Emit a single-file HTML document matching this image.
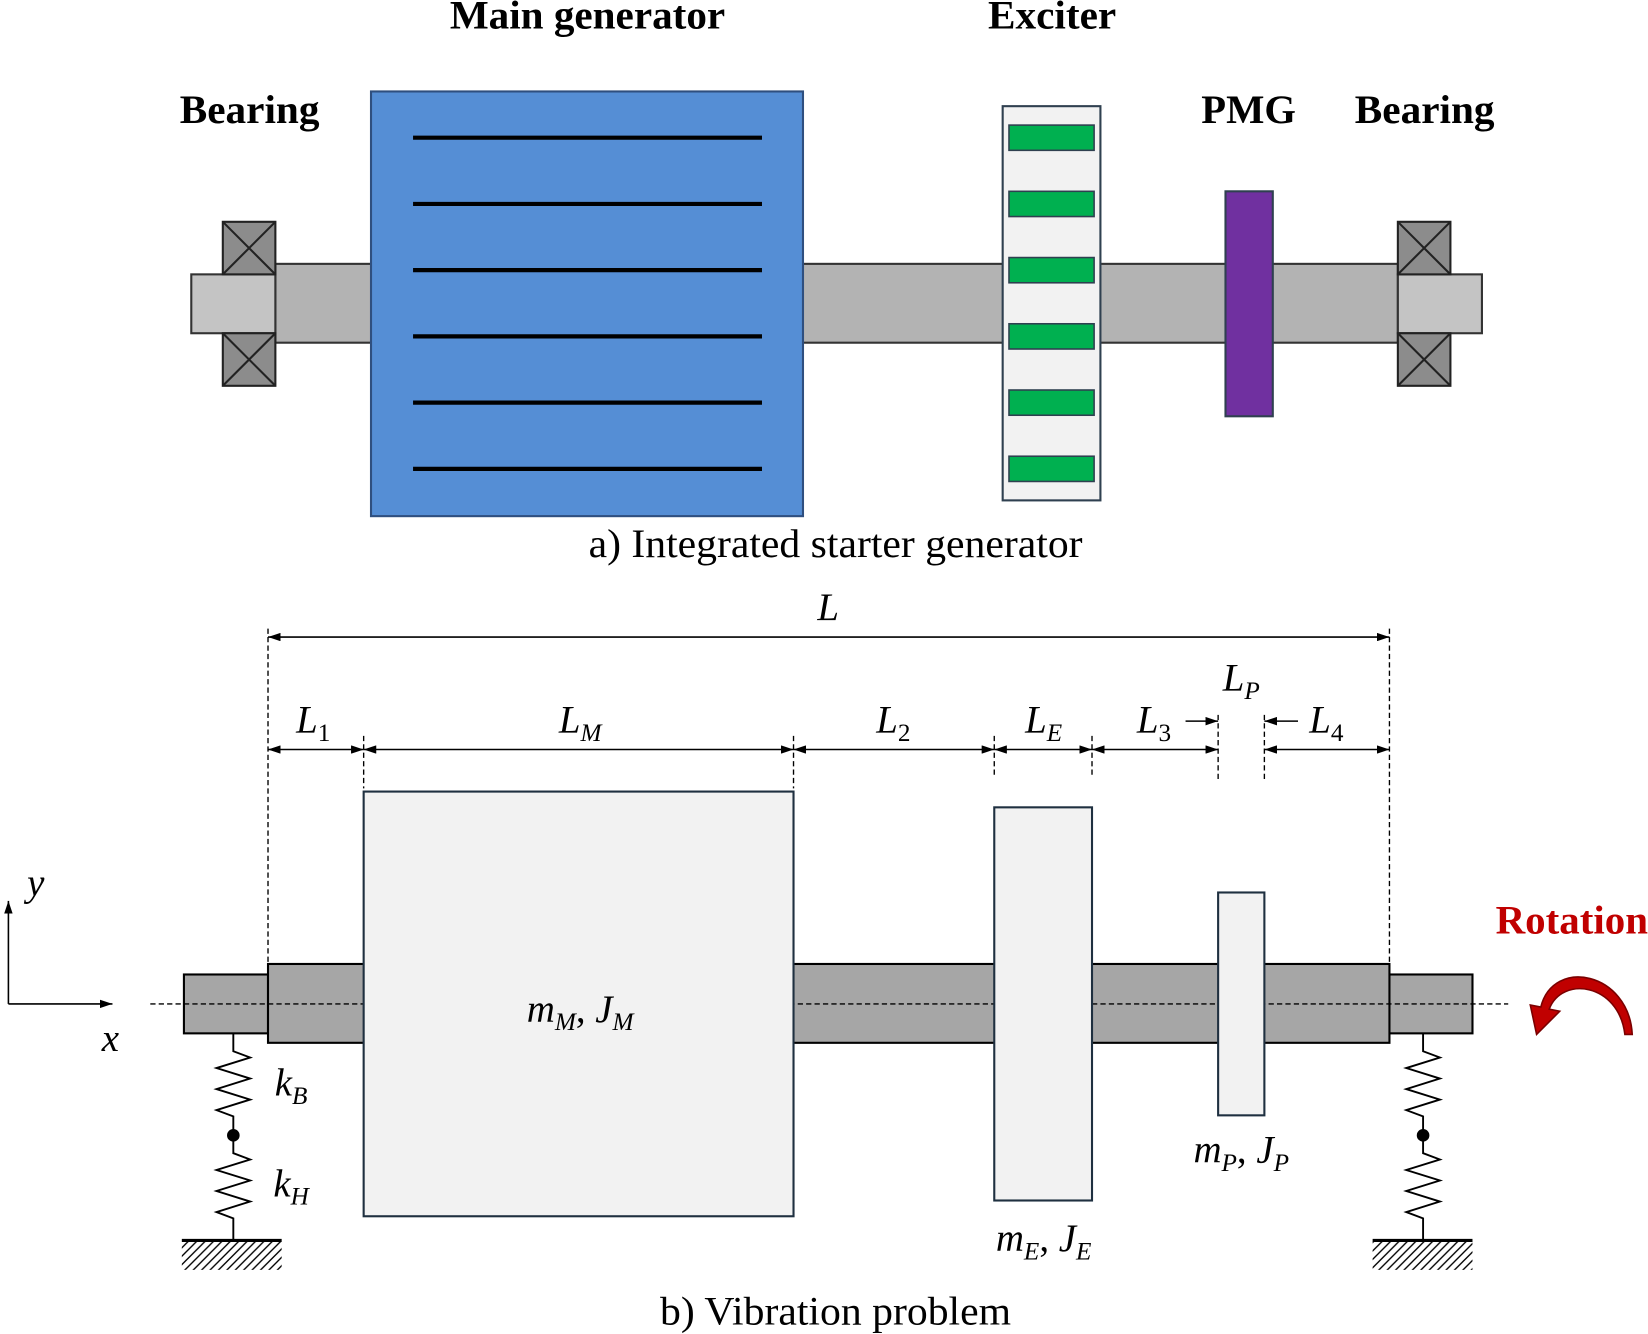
<!DOCTYPE html>
<html><head><meta charset="utf-8"><style>html,body{margin:0;padding:0;background:#fff}svg{display:block}</style></head>
<body>
<svg width="1648" height="1334" viewBox="0 0 1568 1269" preserveAspectRatio="none" xmlns="http://www.w3.org/2000/svg" font-family="'Liberation Serif',serif">
<defs>
<marker id="a" markerWidth="12" markerHeight="8" refX="12" refY="4" orient="auto-start-reverse" markerUnits="userSpaceOnUse"><path d="M0,0 L12,4 L0,8 Z" fill="#000"/></marker>
<pattern id="h" width="8" height="8" patternUnits="userSpaceOnUse"><path d="M-2,10 L10,-2 M-2,2 L2,-2 M6,10 L10,6" stroke="#000" stroke-width="1.3"/></pattern>
</defs>
<!-- Part a -->
<g font-weight="bold" font-size="38" lengthAdjust="spacingAndGlyphs">
<text x="428" y="27" textLength="262" lengthAdjust="spacingAndGlyphs">Main generator</text>
<text x="940" y="27" textLength="122" lengthAdjust="spacingAndGlyphs">Exciter</text>
<text x="171" y="117" textLength="133" lengthAdjust="spacingAndGlyphs">Bearing</text>
<text x="1143" y="117" textLength="90" lengthAdjust="spacingAndGlyphs">PMG</text>
<text x="1289" y="117" textLength="133" lengthAdjust="spacingAndGlyphs">Bearing</text>
</g>
<rect x="262" y="251" width="1068" height="75" fill="#b3b3b3" stroke="#333" stroke-width="2"/>
<rect x="182" y="261" width="80" height="56" fill="#c4c4c4" stroke="#333" stroke-width="2"/>
<rect x="1330" y="261" width="80" height="56" fill="#c4c4c4" stroke="#333" stroke-width="2"/>
<g fill="#8c8c8c" stroke="#222" stroke-width="2">
<rect x="212" y="211" width="50" height="50"/><path d="M212,211 L262,261 M262,211 L212,261"/>
<rect x="212" y="317" width="50" height="50"/><path d="M212,317 L262,367 M262,317 L212,367"/>
<rect x="1330" y="211" width="50" height="50"/><path d="M1330,211 L1380,261 M1380,211 L1330,261"/>
<rect x="1330" y="317" width="50" height="50"/><path d="M1330,317 L1380,367 M1380,317 L1330,367"/>
</g>
<rect x="353" y="87" width="411" height="404" fill="#558ed5" stroke="#2f4f7f" stroke-width="2"/>
<g stroke="#000" stroke-width="4">
<line x1="393" y1="131" x2="725" y2="131"/><line x1="393" y1="194" x2="725" y2="194"/><line x1="393" y1="257" x2="725" y2="257"/>
<line x1="393" y1="320" x2="725" y2="320"/><line x1="393" y1="383" x2="725" y2="383"/><line x1="393" y1="446" x2="725" y2="446"/>
</g>
<rect x="954" y="101" width="93" height="375" fill="#f2f2f2" stroke="#2f4050" stroke-width="2"/>
<g fill="#00b050" stroke="#2f4050" stroke-width="1.5">
<rect x="960" y="119" width="81" height="24"/><rect x="960" y="182" width="81" height="24"/><rect x="960" y="245" width="81" height="24"/>
<rect x="960" y="308" width="81" height="24"/><rect x="960" y="371" width="81" height="24"/><rect x="960" y="434" width="81" height="24"/>
</g>
<rect x="1166" y="182" width="45" height="214" fill="#7030a0" stroke="#2f4050" stroke-width="2"/>
<text x="560" y="530" font-size="38" textLength="470" lengthAdjust="spacingAndGlyphs">a) Integrated starter generator</text>

<!-- Part b -->
<g stroke="#000" stroke-width="1.3" stroke-dasharray="5,3" fill="none">
<line x1="255" y1="598" x2="255" y2="915"/><line x1="1322" y1="598" x2="1322" y2="915"/>
<line x1="346" y1="700" x2="346" y2="750"/><line x1="755" y1="700" x2="755" y2="750"/>
<line x1="946" y1="700" x2="946" y2="740"/><line x1="1039" y1="700" x2="1039" y2="740"/>
<line x1="1159" y1="680" x2="1159" y2="742"/><line x1="1203" y1="680" x2="1203" y2="742"/>
</g>
<g stroke="#000" stroke-width="1.5" marker-start="url(#a)" marker-end="url(#a)">
<line x1="255" y1="606" x2="1322" y2="606"/>
<line x1="255" y1="713" x2="346" y2="713"/><line x1="346" y1="713" x2="755" y2="713"/>
<line x1="755" y1="713" x2="946" y2="713"/><line x1="946" y1="713" x2="1039" y2="713"/>
<line x1="1039" y1="713" x2="1159" y2="713"/><line x1="1203" y1="713" x2="1322" y2="713"/>
</g>
<g stroke="#000" stroke-width="1.5">
<line x1="1128" y1="686" x2="1159" y2="686" marker-end="url(#a)"/>
<line x1="1235" y1="686" x2="1203" y2="686" marker-end="url(#a)"/>
</g>
<g font-size="37" font-style="italic" text-anchor="middle">
<text x="788" y="590">L</text>
<text x="298" y="697">L<tspan font-size="24" dy="8" font-style="normal">1</tspan></text>
<text x="552" y="697">L<tspan font-size="24" dy="8">M</tspan></text>
<text x="850" y="697">L<tspan font-size="24" dy="8" font-style="normal">2</tspan></text>
<text x="993" y="697">L<tspan font-size="24" dy="8">E</tspan></text>
<text x="1098" y="697">L<tspan font-size="24" dy="8" font-style="normal">3</tspan></text>
<text x="1181" y="657">L<tspan font-size="24" dy="8">P</tspan></text>
<text x="1262" y="697">L<tspan font-size="24" dy="8" font-style="normal">4</tspan></text>
</g>
<rect x="175" y="927" width="80" height="56" fill="#a6a6a6" stroke="#000" stroke-width="2"/>
<rect x="1322" y="927" width="79" height="56" fill="#a6a6a6" stroke="#000" stroke-width="2"/>
<rect x="255" y="917" width="1067" height="75" fill="#a6a6a6" stroke="#000" stroke-width="2"/>
<line x1="143" y1="955" x2="1435" y2="955" stroke="#000" stroke-width="1.3" stroke-dasharray="5,3"/>
<g fill="#f2f2f2" stroke="#1f3040" stroke-width="2">
<rect x="346" y="753" width="409" height="404"/>
<rect x="946" y="768" width="93" height="374"/>
<rect x="1159" y="849" width="44" height="212"/>
</g>
<g font-size="37" font-style="italic" text-anchor="middle">
<text x="552" y="972">m<tspan font-size="24" dy="8">M</tspan><tspan dy="-8" font-style="normal">, </tspan>J<tspan font-size="24" dy="8">M</tspan></text>
<text x="993" y="1190">m<tspan font-size="24" dy="8">E</tspan><tspan dy="-8" font-style="normal">, </tspan>J<tspan font-size="24" dy="8">E</tspan></text>
<text x="1181" y="1106">m<tspan font-size="24" dy="8">P</tspan><tspan dy="-8" font-style="normal">, </tspan>J<tspan font-size="24" dy="8">P</tspan></text>
<text x="277" y="1042">k<tspan font-size="24" dy="8">B</tspan></text>
<text x="277" y="1138">k<tspan font-size="24" dy="8">H</tspan></text>
<text x="34" y="852">y</text>
<text x="105" y="1000">x</text>
</g>
<g stroke="#000" stroke-width="1.5">
<line x1="8" y1="955" x2="8" y2="857" marker-end="url(#a)"/>
<line x1="8" y1="955" x2="107" y2="955" marker-end="url(#a)"/>
</g>
<!-- springs -->
<g fill="none" stroke="#000" stroke-width="1.8">
<path d="M222,983 V1000 L238,1006 L206,1016 L238,1026 L206,1036 L238,1046 L206,1056 L222,1062 V1097 L238,1103 L206,1113 L238,1123 L206,1133 L238,1143 L206,1153 L222,1159 V1180"/>
<path d="M1354,983 V1000 L1370,1006 L1338,1016 L1370,1026 L1338,1036 L1370,1046 L1338,1056 L1354,1062 V1097 L1370,1103 L1338,1113 L1370,1123 L1338,1133 L1370,1143 L1338,1153 L1354,1159 V1180"/>
</g>
<circle cx="222" cy="1080" r="6" fill="#000"/><circle cx="1354" cy="1080" r="6" fill="#000"/>
<rect x="173" y="1181" width="95" height="27" fill="url(#h)"/>
<rect x="1306" y="1181" width="95" height="27" fill="url(#h)"/>
<line x1="173" y1="1180" x2="268" y2="1180" stroke="#000" stroke-width="3"/>
<line x1="1306" y1="1180" x2="1401" y2="1180" stroke="#000" stroke-width="3"/>
<!-- rotation -->
<text x="1423" y="888" font-size="38" font-weight="bold" fill="#c00000" textLength="145" lengthAdjust="spacingAndGlyphs">Rotation</text>
<path d="M1553,984 C1550,925 1478,910 1466,958 L1456,956 L1462,984 L1484,962 L1474,960 C1486,928 1540,935 1546,984 Z" fill="#c00000" stroke="#7a0000" stroke-width="1.5"/>
<text x="628" y="1260" font-size="38" textLength="334" lengthAdjust="spacingAndGlyphs">b) Vibration problem</text>
</svg>
</body></html>
